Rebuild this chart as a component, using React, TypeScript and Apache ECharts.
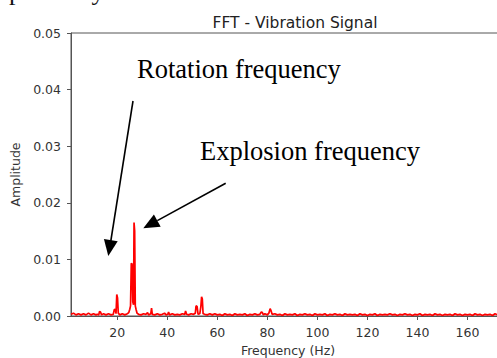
import React, { useEffect, useRef } from "react";
import * as echarts from "echarts";

const titleText = "FFT - Vibration Signal";
const xName = "Frequency (Hz)";
const yName = "Amplitude";
const xTicks = [20, 40, 60, 80, 100, 120, 140, 160];

// [frequency Hz, amplitude]
const spectrumLow: [number, number][] = [
  [1.5, 0.0003], [2.5, 0.0005], [3.5, 0.0002], [4.5, 0.0004], [5.5, 0.0002], [6.5, 0.0004],
  [7.5, 0.0002], [8.5, 0.0005], [9.5, 0.0002], [10.5, 0.0004], [11.5, 0.0002], [12, 0.0003],
  [12.6, 0.0002], [12.9, 0.0008], [13.3, 0.0007], [13.7, 0.0002], [14.5, 0.0004], [15.5, 0.0002],
  [16.5, 0.0004], [17.5, 0.0002], [18.4, 0.0003], [18.8, 0.0011], [19.2, 0.0012], [19.5, 0.0004],
  [19.8, 0.0038], [20.1, 0.0032], [20.4, 0.0005], [21, 0.0002], [22, 0.0004], [23, 0.0002],
  [24, 0.0004], [24.6, 0.0006], [25.0, 0.0012], [25.3, 0.0018], [25.6, 0.0093], [25.9, 0.0092],
  [26.2, 0.0025], [26.5, 0.002], [26.7, 0.0165], [26.95, 0.015], [27.2, 0.0018], [27.5, 0.0012],
  [27.9, 0.0005], [28.5, 0.0003], [29.5, 0.0002], [30.5, 0.0004], [31.5, 0.0003], [32.1, 0.0006],
  [32.5, 0.0002], [33.4, 0.0004], [33.7, 0.0014], [34.0, 0.0003], [35, 0.0002], [36, 0.0004],
  [37, 0.0002], [38, 0.0003], [38.9, 0.0005], [39.5, 0.0002], [40.2, 0.0003], [40.5, 0.0007],
  [40.9, 0.0002], [42, 0.0004], [43, 0.0002], [44, 0.0003], [45, 0.0002], [46, 0.0004],
  [47.0, 0.0003], [47.3, 0.0009], [47.7, 0.0003], [48.5, 0.0002], [49.5, 0.0004], [50.5, 0.0003],
  [51.2, 0.0005], [51.5, 0.0018], [51.9, 0.0017], [52.3, 0.0003], [53.0, 0.0004], [53.4, 0.0016],
  [53.7, 0.0034], [54.0, 0.003], [54.3, 0.0004], [55, 0.0003], [56, 0.0002],
];
const spectrumMid: [number, number][] = [
  [57, 0.0004], [58, 0.0002], [59, 0.0004], [60, 0.0002], [61, 0.0003], [62, 0.0001],
  [63, 0.0004], [64, 0.0002], [65, 0.0003], [66, 0.0001], [67, 0.0004], [68, 0.0002],
  [69, 0.0003], [70, 0.0002], [71, 0.0004], [72, 0.0001], [73, 0.0003], [74, 0.0002],
  [75, 0.0004], [76, 0.0002], [77, 0.0003], [77.6, 0.0007], [78, 0.0006], [78.4, 0.0002],
  [79, 0.0004], [80, 0.0002], [80.6, 0.0005], [81.1, 0.0013], [81.5, 0.0009], [81.9, 0.0003],
  [83, 0.0004], [84, 0.0002], [85, 0.0003], [86, 0.0001], [87, 0.0004], [88, 0.0002],
  [89, 0.0003], [90, 0.0002], [91, 0.0004], [92, 0.0001], [93, 0.0003], [94, 0.0002],
  [95, 0.0004], [96, 0.0002], [97, 0.0003], [98, 0.0001], [99, 0.0004], [100, 0.0002],
  [101, 0.0003], [102, 0.0002], [103, 0.0004], [104, 0.0001], [105, 0.0003], [106, 0.0002],
  [107, 0.0004], [108, 0.0002], [109, 0.0003], [110, 0.0001], [111, 0.0004], [112, 0.0002],
];
const spectrumHigh: [number, number][] = [
  [113, 0.0003], [114, 0.0002], [115, 0.0003], [116, 0.0001], [117, 0.0004], [118, 0.0002],
  [119, 0.0003], [120, 0.0001], [121, 0.0003], [122, 0.0002], [123, 0.0004], [124, 0.0001],
  [125, 0.0003], [126, 0.0002], [127, 0.0003], [128, 0.0002], [129, 0.0004], [130, 0.0002],
  [131, 0.0003], [132, 0.0001], [133, 0.0003], [134, 0.0002], [135, 0.0004], [136, 0.0002],
  [137, 0.0003], [138, 0.0001], [139, 0.0003], [140, 0.0002], [141, 0.0004], [142, 0.0001],
  [143, 0.0003], [144, 0.0002], [145, 0.0003], [146, 0.0001], [147, 0.0004], [148, 0.0002],
  [149, 0.0003], [150, 0.0001], [151, 0.0003], [152, 0.0002], [153, 0.0003], [154, 0.0001],
  [155, 0.0004], [156, 0.0002], [157, 0.0003], [158, 0.0001], [159, 0.0003], [160, 0.0002],
  [161, 0.0003], [162, 0.0001], [163, 0.0004], [164, 0.0002], [165, 0.0003], [166, 0.0001],
  [167, 0.0003], [168, 0.0002], [169, 0.0003], [170, 0.0001], [171, 0.0004], [172, 0.0002],
  [173, 0.0003], [174, 0.0001], [175, 0.0003],
];

const annotations = ["Rotation frequency", "Explosion frequency"];
const captionTail = "spectively.";

export default function App() {
  const ref = useRef<HTMLDivElement>(null);
  useEffect(() => {
    if (!ref.current) return;
    const chart = echarts.init(ref.current, null, { renderer: "svg" });
    const sans = "DejaVu Sans";
    const serif = "Liberation Serif";
    const axisColor = "#555";
    const data = [...spectrumLow, ...spectrumMid, ...spectrumHigh];
    const arrowStyle = { stroke: "#000", lineWidth: 1.6 };
    const asc = 23.6; // ascent of 26.5px serif: baseline = y + asc
    chart.setOption({
      animation: false,
      title: {
        text: titleText,
        left: 290,
        top: 10,
        textAlign: "center",
        textStyle: { fontFamily: sans, fontSize: 15.5, fontWeight: "normal", color: "#222" },
      },
      grid: {
        left: 71,
        top: 33,
        width: 434,
        height: 283,
        show: true,
        borderColor: axisColor,
        borderWidth: 1,
        outerBoundsMode: "none",
        containLabel: false,
      },
      xAxis: {
        type: "value",
        min: 1.5,
        max: 175,
        name: xName,
        nameLocation: "middle",
        nameGap: 24,
        nameTextStyle: { fontFamily: sans, fontSize: 12.5, color: "#333" },
        axisLine: { show: true, lineStyle: { color: axisColor, width: 1 } },
        axisTick: { show: true, inside: false, length: 4, lineStyle: { color: axisColor }, customValues: xTicks },
        axisLabel: {
          fontFamily: sans,
          fontSize: 12.5,
          color: "#333",
          margin: 10,
          customValues: xTicks,
        },
        splitLine: { show: false },
      },
      yAxis: {
        type: "value",
        min: 0,
        max: 0.05,
        interval: 0.01,
        name: yName,
        nameLocation: "middle",
        nameGap: 39,
        nameTextStyle: { fontFamily: sans, fontSize: 12.5, color: "#333" },
        axisLine: { show: true, lineStyle: { color: axisColor, width: 1 } },
        axisTick: { show: true, inside: false, length: 4, lineStyle: { color: axisColor } },
        axisLabel: {
          fontFamily: sans,
          fontSize: 12.5,
          color: "#333",
          margin: 10,
          formatter: (v: number) => v.toFixed(2),
        },
        splitLine: { show: false },
      },
      series: [
        {
          type: "line",
          data,
          showSymbol: false,
          symbol: "none",
          lineStyle: { color: "#ff0000", width: 1.7 },
          z: 3,
        },
      ],
      graphic: [
        {
          type: "text",
          x: -1,
          y: 2.5 - asc,
          style: { text: captionTail, font: `26px '${serif}'`, fill: "#111", textVerticalAlign: "top" },
        },
        {
          type: "text",
          x: 137,
          y: 79.3 - asc,
          style: { text: annotations[0], font: `26.5px '${serif}'`, fill: "#000", textVerticalAlign: "top" },
        },
        {
          type: "text",
          x: 200,
          y: 161.5 - asc,
          style: { text: annotations[1], font: `26.5px '${serif}'`, fill: "#000", textVerticalAlign: "top" },
        },
        { type: "line", shape: { x1: 133, y1: 101, x2: 110.8, y2: 241 }, style: arrowStyle },
        {
          type: "polygon",
          shape: { points: [[108.3, 256], [117.7, 241.3], [103.9, 239.1]] },
          style: { fill: "#000" },
        },
        { type: "line", shape: { x1: 225.7, y1: 183.3, x2: 157.3, y2: 220.6 }, style: arrowStyle },
        {
          type: "polygon",
          shape: { points: [[143.3, 228.3], [153.9, 214.5], [160.7, 226.8]] },
          style: { fill: "#000" },
        },
      ],
    });
    return () => chart.dispose();
  }, []);
  return (
    <div
      ref={ref}
      style={{ position: "fixed", left: 0, top: 0, width: 497, height: 358, background: "#fff" }}
    />
  );
}
